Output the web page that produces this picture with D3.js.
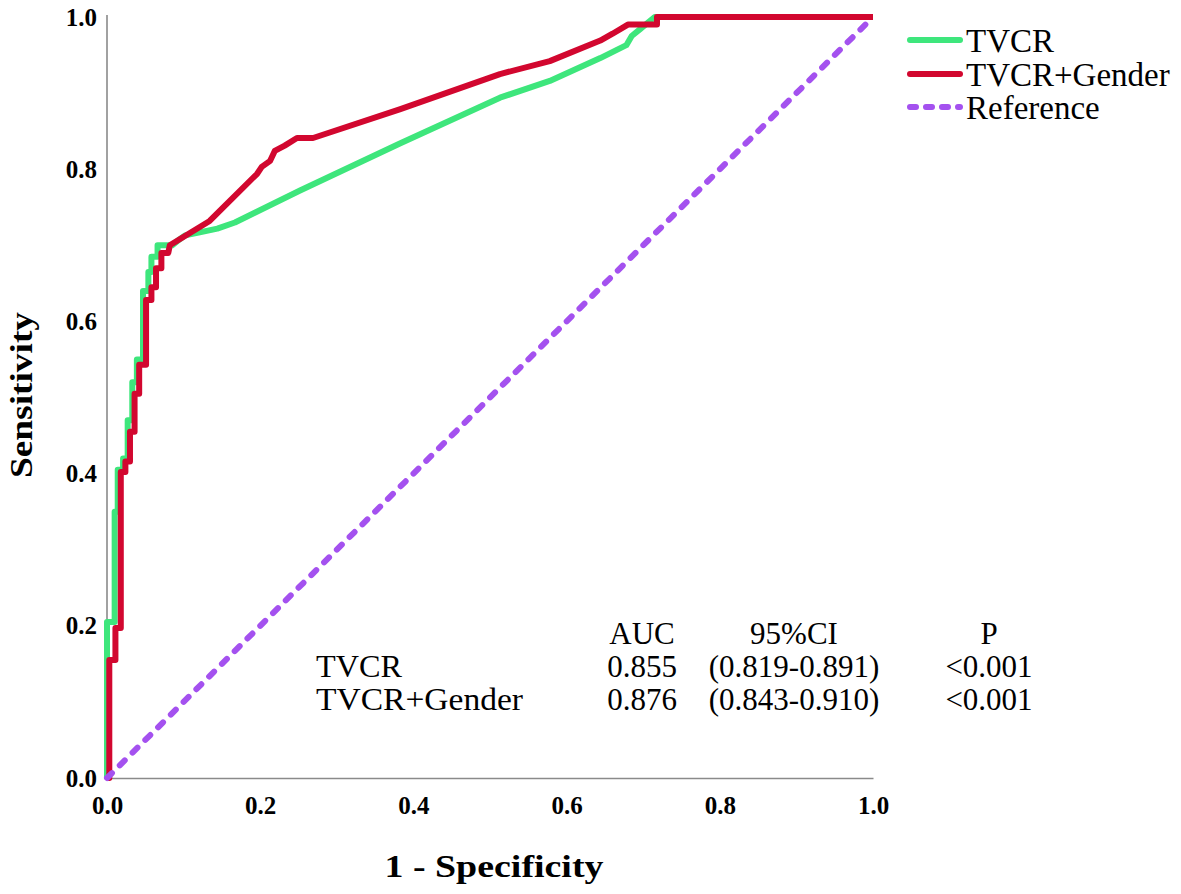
<!DOCTYPE html>
<html>
<head>
<meta charset="utf-8">
<script src="https://cdn.jsdelivr.net/npm/d3@7"></script>
<style>
  html, body { margin: 0; padding: 0; background: #fff; }
  svg { display: block; }
  text { font-family: "Liberation Serif", "Times New Roman", serif; fill: #000; }
</style>
</head>
<body>
<svg id="chart" width="1181" height="894"></svg>
<script>
// ---- data ----
const tickValues = [0, 0.2, 0.4, 0.6, 0.8, 1.0];

// TVCR ROC curve (1 - specificity, sensitivity)
const tvcrFpr = [0, 0, 0.010, 0.010, 0.014, 0.014, 0.021, 0.021, 0.027, 0.027, 0.033, 0.033, 0.039, 0.039, 0.047, 0.047, 0.054, 0.054, 0.058, 0.058, 0.066, 0.066, 0.085, 0.095, 0.102, 0.121, 0.144, 0.167, 0.252, 0.383, 0.513, 0.578, 0.644, 0.678, 0.685, 0.696, 0.715, 1.0];
const tvcrTpr = [0, 0.205, 0.205, 0.35, 0.35, 0.405, 0.405, 0.42, 0.42, 0.47, 0.47, 0.52, 0.52, 0.55, 0.55, 0.64, 0.64, 0.665, 0.665, 0.685, 0.685, 0.70, 0.70, 0.708, 0.713, 0.717, 0.722, 0.730, 0.772, 0.834, 0.894, 0.916, 0.946, 0.963, 0.975, 0.984, 1.0, 1.0];

// TVCR+Gender ROC curve
const genderFpr = [0, 0.003, 0.003, 0.011, 0.011, 0.018, 0.018, 0.024, 0.024, 0.030, 0.030, 0.036, 0.036, 0.042, 0.042, 0.051, 0.051, 0.058, 0.058, 0.064, 0.064, 0.071, 0.071, 0.080, 0.082, 0.134, 0.196, 0.202, 0.213, 0.219, 0.232, 0.248, 0.269, 0.383, 0.513, 0.578, 0.644, 0.660, 0.680, 0.718, 0.718, 1.0];
const genderTpr = [0, 0, 0.155, 0.155, 0.197, 0.197, 0.402, 0.402, 0.416, 0.416, 0.455, 0.455, 0.505, 0.505, 0.543, 0.543, 0.628, 0.628, 0.645, 0.645, 0.67, 0.67, 0.69, 0.69, 0.70, 0.732, 0.794, 0.803, 0.811, 0.824, 0.831, 0.841, 0.841, 0.879, 0.925, 0.942, 0.969, 0.978, 0.990, 0.990, 1.0, 1.0];

// reference diagonal
const refFpr = [0, 1];
const refTpr = [0, 1];

const seriesNames = ["TVCR", "TVCR+Gender", "Reference"];
const seriesColors = ["#3ee67c", "#d2072f", "#a451ef"];

// statistics table
const tableHeader = ["AUC", "95%CI", "P"];
const tableModels = ["TVCR", "TVCR+Gender"];
const tableAUC = ["0.855", "0.876"];
const tableCI = ["(0.819-0.891)", "(0.843-0.910)"];
const tableP = ["<0.001", "<0.001"];

// ---- drawing ----
const svg = d3.select("#chart");
const x = d3.scaleLinear().domain([0, 1]).range([107, 873]);
const y = d3.scaleLinear().domain([0, 1]).range([778, 17]);

const fmt = d3.format(".1f");

// axes
const gx = svg.append("g").attr("transform", `translate(0,${y(0)})`)
  .call(d3.axisBottom(x).tickValues(tickValues).tickFormat(fmt).tickSize(0).tickPadding(18));
const gy = svg.append("g").attr("transform", `translate(${x(0)},0)`)
  .call(d3.axisLeft(y).tickValues(tickValues).tickFormat(fmt).tickSize(0).tickPadding(10));
[gx, gy].forEach(g => {
  g.select(".domain").attr("stroke", "#8a8a8a").attr("stroke-width", 1.6);
  g.selectAll("text")
    .style("font-family", '"Liberation Serif", "Times New Roman", serif')
    .style("font-weight", "bold")
    .style("font-size", "25px")
    .attr("fill", "#000");
});
gy.select(".domain").attr("d", `M0,${y(0)}V15`);

// axis titles
svg.append("text")
  .attr("x", 494).attr("y", 877)
  .attr("text-anchor", "middle")
  .attr("font-weight", "bold").attr("font-size", 31)
  .attr("textLength", 219).attr("lengthAdjust", "spacingAndGlyphs")
  .text("1 - Specificity");
svg.append("text")
  .attr("transform", "translate(32,395) rotate(-90)")
  .attr("text-anchor", "middle")
  .attr("font-weight", "bold").attr("font-size", 31)
  .attr("textLength", 166).attr("lengthAdjust", "spacingAndGlyphs")
  .text("Sensitivity");

const line = d3.line().x(d => x(d[0])).y(d => y(d[1]));
const zip = (a, b) => a.map((v, i) => [v, b[i]]);

const curves = [
  { pts: zip(tvcrFpr, tvcrTpr), color: seriesColors[0], dash: null },
  { pts: zip(genderFpr, genderTpr), color: seriesColors[1], dash: null },
  { pts: zip(refFpr, refTpr), color: seriesColors[2], dash: "7,11" }
];
curves.forEach(c => {
  svg.append("path")
    .attr("d", line(c.pts))
    .attr("fill", "none")
    .attr("stroke", c.color)
    .attr("stroke-width", 6)
    .attr("stroke-linejoin", "round")
    .attr("stroke-linecap", c.dash ? "round" : "butt")
    .attr("stroke-dasharray", c.dash);
});

// legend
const legendY = [40, 74, 107];
seriesNames.forEach((name, i) => {
  svg.append("line")
    .attr("x1", 910).attr("x2", 960)
    .attr("y1", legendY[i]).attr("y2", legendY[i])
    .attr("stroke", seriesColors[i]).attr("stroke-width", 6)
    .attr("stroke-linecap", "round")
    .attr("stroke-dasharray", i === 2 ? "6,10" : null);
  svg.append("text")
    .attr("x", 966).attr("y", legendY[i] + 12)
    .attr("font-size", 33)
    .text(name);
});

// table
const colX = [642, 794, 989];
const rowY = [644, 677, 710];
const tFont = 31;
tableHeader.forEach((h, i) => {
  svg.append("text").attr("x", colX[i]).attr("y", rowY[0])
    .attr("text-anchor", "middle").attr("font-size", tFont).text(h);
});
tableModels.forEach((m, r) => {
  const yy = rowY[r + 1];
  svg.append("text").attr("x", 316).attr("y", yy).attr("font-size", tFont)
    .attr("textLength", 207).attr("lengthAdjust", "spacingAndGlyphs").text(m === "TVCR" ? m : m)
    .attr("textLength", m === "TVCR" ? 86 : 207);
  svg.append("text").attr("x", colX[0]).attr("y", yy).attr("text-anchor", "middle").attr("font-size", tFont).text(tableAUC[r]);
  svg.append("text").attr("x", colX[1]).attr("y", yy).attr("text-anchor", "middle").attr("font-size", tFont).text(tableCI[r]);
  svg.append("text").attr("x", colX[2]).attr("y", yy).attr("text-anchor", "middle").attr("font-size", tFont).text(tableP[r]);
});
</script>
</body>
</html>
